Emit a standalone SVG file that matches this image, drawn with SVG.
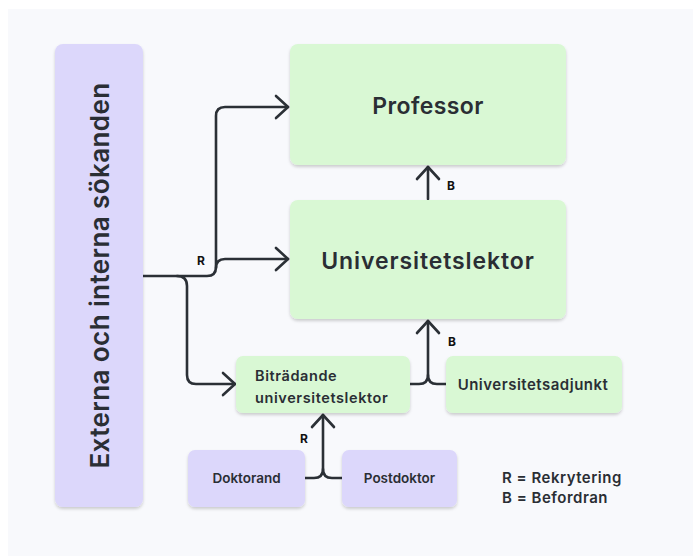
<svg xmlns="http://www.w3.org/2000/svg" width="693" height="559" viewBox="0 0 693 559">
  <style>
    .green { fill: #d9f8d4; }
    .purple { fill: #dcd7fb; }
    .box { filter: url(#shadow); }
    text { font-family: Inter, "Noto Sans", sans-serif; fill: #2a2e34; font-weight: 600; }
    .big { font-size: 23px; text-anchor: middle; }
    .mid { font-size: 14.5px; letter-spacing: 0.6px; }
    .small { font-size: 13.5px; text-anchor: middle; }
    .lbl { font-size: 12px; font-weight: 700; fill: #111; }
    .legend { font-size: 15px; letter-spacing: 0.5px; }
    .conn { fill: none; stroke: #2b3036; stroke-width: 2.6; stroke-linecap: round; stroke-linejoin: round; }
  </style>
  <defs>
    <filter id="shadow" x="-10%" y="-10%" width="120%" height="130%">
      <feDropShadow dx="0" dy="2" stdDeviation="1.8" flood-color="#000" flood-opacity="0.18"/>
    </filter>
    <marker id="arrow" markerUnits="userSpaceOnUse" markerWidth="30" markerHeight="30" refX="15" refY="15" orient="auto" viewBox="0 0 30 30">
      <path d="M3,4 L15,15 L3,26" fill="none" stroke="#2b3036" stroke-width="2.6" stroke-linecap="round" stroke-linejoin="round"/>
    </marker>
  </defs>

  <rect x="0" y="0" width="693" height="559" fill="#ffffff"/>
  <rect x="8" y="9" width="685" height="547" fill="#f8f9fc"/>

  <g id="connectors">
    <path class="conn" d="M143,276 H207 Q216,276 216,267 V116 Q216,107 225,107 H288" marker-end="url(#arrow)"/>
    <path class="conn" d="M216,268 Q216,259 225,259 H288" marker-end="url(#arrow)"/>
    <path class="conn" d="M177,276 Q187,276 187,286 V375 Q187,384 196,384 H235" marker-end="url(#arrow)"/>
    <path class="conn" d="M428,199 V167" marker-end="url(#arrow)"/>
    <path class="conn" d="M410,384 H419 Q428,384 428,375 V321" marker-end="url(#arrow)"/>
    <path class="conn" d="M446,384 H437 Q428,384 428,375"/>
    <path class="conn" d="M305,478 H314 Q323,478 323,469 V415" marker-end="url(#arrow)"/>
    <path class="conn" d="M342,478 H332 Q323,478 323,469"/>
    <text class="lbl" x="201" y="265" text-anchor="middle">R</text>
    <text class="lbl" x="451" y="190" text-anchor="middle">B</text>
    <text class="lbl" x="452" y="346" text-anchor="middle">B</text>
    <text class="lbl" x="304" y="443" text-anchor="middle">R</text>
  </g>

  <g id="sokande">
    <rect class="box purple" x="55" y="44" width="88" height="463" rx="8"/>
    <text class="big" transform="translate(109,275.5) rotate(-90)" style="font-size:26px; letter-spacing:0.4px">Externa och interna sökanden</text>
  </g>

  <g id="professor">
    <rect class="box green" x="290" y="44" width="276" height="121" rx="8"/>
    <text class="big" x="428" y="114" style="letter-spacing:0.4px">Professor</text>
  </g>

  <g id="universitetslektor">
    <rect class="box green" x="290" y="200" width="276" height="119" rx="8"/>
    <text class="big" x="428" y="269" style="letter-spacing:0.9px">Universitetslektor</text>
  </g>

  <g id="bitradande">
    <rect class="box green" x="236" y="356" width="174" height="57" rx="7"/>
    <text class="mid" x="255" y="381">Biträdande</text>
    <text class="mid" x="255" y="403">universitetslektor</text>
  </g>

  <g id="universitetsadjunkt">
    <rect class="box green" x="446" y="356" width="176" height="57" rx="7"/>
    <text class="small" x="533" y="390" style="font-size:15px; letter-spacing:0.5px">Universitetsadjunkt</text>
  </g>

  <g id="doktorand">
    <rect class="box purple" x="188" y="450" width="117" height="57" rx="7"/>
    <text class="small" x="246.5" y="483">Doktorand</text>
  </g>

  <g id="postdoktor">
    <rect class="box purple" x="342" y="450" width="115" height="57" rx="7"/>
    <text class="small" x="399.5" y="483">Postdoktor</text>
  </g>

  <g id="legend">
    <text class="legend" x="502" y="483">R = Rekrytering</text>
    <text class="legend" x="502" y="503">B = Befordran</text>
  </g>
</svg>
